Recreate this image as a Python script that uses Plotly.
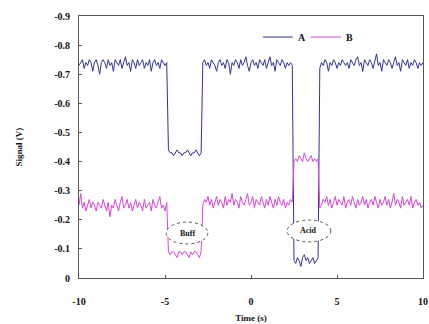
import plotly.graph_objects as go

# Time grid: start and step (seconds)
t_start = -10.0
t_step = 0.1

# Series A (V), segments in time order
A_seg1 = [-0.73,-0.74,-0.75,-0.72,-0.74,-0.73,-0.75,-0.74,-0.71,-0.74,
          -0.75,-0.73,-0.70,-0.74,-0.75,-0.74,-0.72,-0.75,-0.73,-0.74,
          -0.71,-0.75,-0.74,-0.73,-0.75,-0.72,-0.74,-0.76,-0.73,-0.74,
          -0.71,-0.75,-0.74,-0.72,-0.75,-0.73,-0.74,-0.75,-0.72,-0.74,
          -0.73,-0.75,-0.71,-0.74,-0.75,-0.73,-0.74,-0.72,-0.75,-0.74,
          -0.73,-0.74]
A_seg2 = [-0.44,-0.43,-0.43,-0.42,-0.43,-0.44,-0.43,-0.43,-0.42,-0.43,
          -0.43,-0.44,-0.43,-0.42,-0.43,-0.43,-0.44,-0.43,-0.42,-0.43]
A_seg3 = [-0.74,-0.75,-0.73,-0.74,-0.72,-0.75,-0.74,-0.73,-0.71,-0.74,
          -0.75,-0.73,-0.74,-0.72,-0.75,-0.74,-0.70,-0.74,-0.73,-0.75,
          -0.74,-0.72,-0.75,-0.73,-0.74,-0.76,-0.73,-0.71,-0.74,-0.75,
          -0.73,-0.74,-0.72,-0.75,-0.74,-0.73,-0.75,-0.72,-0.74,-0.76,
          -0.73,-0.74,-0.71,-0.75,-0.74,-0.73,-0.75,-0.74,-0.72,-0.74,
          -0.73,-0.74,-0.73]
A_seg4 = [-0.06,-0.05,-0.07,-0.06,-0.04,-0.07,-0.08,-0.06,-0.07,-0.05,
          -0.06,-0.07,-0.05,-0.06,-0.07]
A_seg5 = [-0.72,-0.74,-0.73,-0.75,-0.74,-0.71,-0.74,-0.73,-0.75,-0.74,
          -0.72,-0.74,-0.73,-0.75,-0.74,-0.73,-0.74,-0.72,-0.75,-0.74,
          -0.73,-0.75,-0.76,-0.73,-0.74,-0.71,-0.75,-0.74,-0.73,-0.75,
          -0.74,-0.72,-0.75,-0.77,-0.73,-0.74,-0.71,-0.75,-0.74,-0.73,
          -0.75,-0.74,-0.72,-0.74,-0.76,-0.73,-0.74,-0.71,-0.75,-0.74,
          -0.73,-0.75,-0.72,-0.74,-0.73,-0.75,-0.74,-0.72,-0.74,-0.73,
          -0.74]

# Series B (V)
B_seg1 = [-0.25,-0.29,-0.24,-0.26,-0.23,-0.25,-0.27,-0.24,-0.26,-0.25,
          -0.23,-0.26,-0.25,-0.24,-0.27,-0.25,-0.23,-0.26,-0.21,-0.25,
          -0.24,-0.27,-0.25,-0.23,-0.26,-0.28,-0.24,-0.25,-0.27,-0.24,
          -0.26,-0.23,-0.25,-0.27,-0.24,-0.26,-0.25,-0.23,-0.27,-0.24,
          -0.25,-0.26,-0.23,-0.27,-0.25,-0.24,-0.26,-0.28,-0.24,-0.25,
          -0.23,-0.26]
B_seg2 = [-0.09,-0.08,-0.09,-0.09,-0.08,-0.07,-0.09,-0.09,-0.08,-0.09,
          -0.09,-0.08,-0.07,-0.09,-0.08,-0.09,-0.09,-0.08,-0.07,-0.09]
B_seg3 = [-0.25,-0.27,-0.26,-0.28,-0.25,-0.27,-0.24,-0.26,-0.28,-0.25,
          -0.27,-0.26,-0.24,-0.28,-0.25,-0.27,-0.26,-0.29,-0.25,-0.27,
          -0.26,-0.24,-0.28,-0.26,-0.25,-0.27,-0.29,-0.25,-0.26,-0.28,
          -0.24,-0.27,-0.26,-0.25,-0.28,-0.26,-0.24,-0.27,-0.25,-0.28,
          -0.26,-0.24,-0.27,-0.25,-0.28,-0.26,-0.25,-0.27,-0.24,-0.26,
          -0.25,-0.27,-0.26]
B_seg4 = [-0.40,-0.41,-0.40,-0.42,-0.41,-0.40,-0.43,-0.41,-0.40,-0.41,
          -0.42,-0.40,-0.41,-0.40,-0.41]
B_seg5 = [-0.24,-0.25,-0.27,-0.26,-0.28,-0.25,-0.27,-0.24,-0.26,-0.28,
          -0.25,-0.27,-0.26,-0.25,-0.28,-0.24,-0.26,-0.27,-0.25,-0.28,
          -0.26,-0.24,-0.27,-0.25,-0.26,-0.28,-0.25,-0.27,-0.24,-0.26,
          -0.27,-0.25,-0.28,-0.26,-0.24,-0.27,-0.25,-0.26,-0.28,-0.25,
          -0.27,-0.24,-0.26,-0.29,-0.25,-0.27,-0.26,-0.24,-0.28,-0.25,
          -0.26,-0.27,-0.25,-0.28,-0.24,-0.26,-0.27,-0.25,-0.26,-0.24,
          -0.25]

A_values = A_seg1 + A_seg2 + A_seg3 + A_seg4 + A_seg5
B_values = B_seg1 + B_seg2 + B_seg3 + B_seg4 + B_seg5

y_tickvals = [-0.9, -0.8, -0.7, -0.6, -0.5, -0.4, -0.3, -0.2, -0.1, 0]
y_ticktext = ["-0.9", "-0.8", "-0.7", "-0.6", "-0.5", "-0.4", "-0.3", "-0.2", "-0.1", "0"]
x_tickvals = [-10, -5, 0, 5, 10]
x_ticktext = ["-10", "-5", "0", "5", "10"]

# Labelled regions: (label, x0, x1, y0, y1)
regions = [("Buff", -4.93, -2.51, -0.117, -0.192),
           ("Acid", 2.10, 4.64, -0.124, -0.199)]

FONT = "Liberation Serif"

fig = go.Figure()
fig.add_trace(go.Scatter(x0=t_start, dx=t_step, y=A_values, mode="lines", name="A",
                         line=dict(color="#32329a", width=1)))
fig.add_trace(go.Scatter(x0=t_start, dx=t_step, y=B_values, mode="lines", name="B",
                         line=dict(color="#d845d8", width=1)))

for label, x0, x1, y0, y1 in regions:
    fig.add_shape(type="circle", xref="x", yref="y", x0=x0, x1=x1, y0=y0, y1=y1,
                  line=dict(color="#555555", width=1, dash="dot"),
                  fillcolor="white", layer="above")
    fig.add_annotation(x=(x0 + x1) / 2, y=(y0 + y1) / 2, text=label, showarrow=False,
                       font=dict(family=FONT, size=8, color="#111111", weight="bold"))

fig.update_layout(
    width=429, height=324,
    margin=dict(l=79, r=6, t=16, b=46),
    paper_bgcolor="white", plot_bgcolor="white",
    font=dict(family=FONT, size=10, color="#111111", weight="bold"),
    showlegend=True,
    legend=dict(orientation="h", x=0.52, y=0.975, xanchor="left", yanchor="top",
                bgcolor="rgba(0,0,0,0)", font=dict(family=FONT, size=10, weight="bold"),
                itemwidth=30, entrywidth=3, entrywidthmode="pixels"),
)
fig.update_xaxes(range=[-10, 10], tickvals=x_tickvals, ticktext=x_ticktext,
                 ticks="inside", ticklen=3, tickcolor="#555555",
                 showline=True, linecolor="#555555", linewidth=1, mirror=True,
                 showgrid=False, zeroline=False, ticklabelstandoff=14, automargin=False,
                 ticklabeloverflow="allow",
                 title=dict(text="Time (s)", font=dict(family=FONT, size=9, weight="bold"), standoff=8))
fig.update_yaxes(range=[0, -0.9], tickvals=y_tickvals, ticktext=y_ticktext,
                 ticks="inside", ticklen=3, tickcolor="#555555",
                 showline=True, linecolor="#555555", linewidth=1, mirror=True,
                 showgrid=False, zeroline=False, ticklabelstandoff=6, automargin=False,
                 title=dict(text="Signal (V)", font=dict(family=FONT, size=9, weight="bold"), standoff=30))

# remove the page's default body margin so the figure starts at the window's corner
fig.write_html("out.html", config={"displayModeBar": False},
               post_script="document.body.style.margin='0';document.body.style.overflow='hidden';")
